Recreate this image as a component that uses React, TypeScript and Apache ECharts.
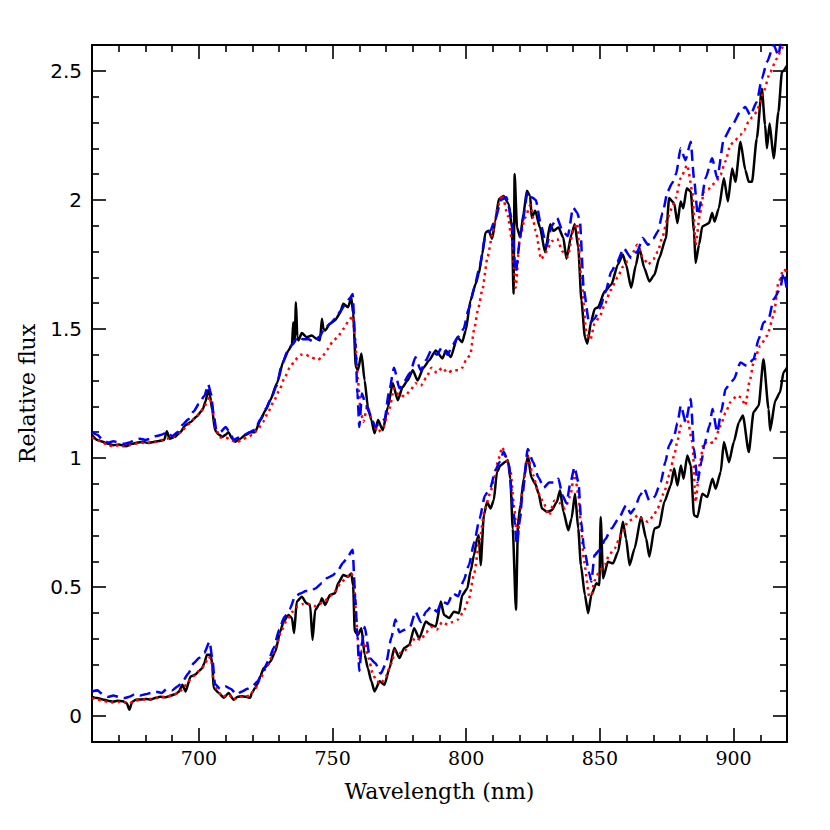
import React, { useEffect, useRef } from "react";
import * as echarts from "echarts";

// ---------- data (wavelength in nm, relative flux) ----------
const blackUpperWl = [660,662,664,666,668,670,672.7,675,677,679,681,683,685,687,688,689,691,693,695,697,699,701.3,702.5,703.4,704.2,705,706,707.5,708.8,710,711,712.5,713.6,715.5,717.3,719.4,721,723,724.9,726.7,729.2,731.7,733.5,734.8,735.3,735.8,736.3,736.8,737.2,738.5,740.3,742.2,744,745.3,746,746.6,747.2,749,750.9,752.7,754,755.8,757,757.7,758.7,759.5,760.8,762,763.2,764.5,765.7,767,768.8,770.7,772.5,774.4,776.2,778,780,781.8,784,786.1,788.6,791.1,792.4,794.2,796.7,798.5,799.8,801.6,803.5,804.7,806,807.2,808.4,809.7,810.9,812.2,814,815.9,817.1,817.7,818.1,819,820.2,821.4,822.7,823.9,824.5,825.8,827.6,829.5,831.4,832.6,834.5,836.3,837.5,839.4,840.6,841.9,843.1,844.4,845.3,846.8,848.1,849.3,851.8,854.3,856.7,858.6,859.8,861.7,863.5,864.8,866.6,868.5,870.4,872.2,874.7,875.9,877.8,879,880.2,881.2,882.5,884,885.2,885.8,887.1,888.3,889.5,890.8,892,892.9,894.5,896.4,897.9,899.5,900.7,902.6,904.4,905.7,906.9,908.7,910.6,911.8,912.5,913.5,915,916.8,918.1,920];
const blackUpperFlux = [1.089,1.07,1.063,1.055,1.05,1.052,1.046,1.055,1.06,1.063,1.058,1.062,1.066,1.07,1.104,1.075,1.082,1.1,1.127,1.14,1.16,1.185,1.22,1.263,1.24,1.185,1.108,1.09,1.082,1.09,1.1,1.075,1.063,1.075,1.089,1.1,1.1,1.147,1.185,1.224,1.29,1.378,1.417,1.44,1.526,1.45,1.603,1.47,1.456,1.484,1.468,1.475,1.462,1.456,1.54,1.5,1.494,1.52,1.533,1.56,1.598,1.584,1.623,1.56,1.352,1.34,1.405,1.3,1.198,1.147,1.096,1.147,1.108,1.198,1.29,1.224,1.275,1.3,1.34,1.3,1.35,1.378,1.417,1.386,1.417,1.391,1.468,1.449,1.494,1.61,1.674,1.714,1.79,1.874,1.88,1.85,1.919,2.003,2.015,1.984,1.893,1.636,2.1,1.893,1.854,1.946,2.035,2.015,1.93,1.958,1.893,1.797,1.906,1.88,1.893,1.854,1.772,1.868,1.906,1.816,1.61,1.468,1.443,1.533,1.578,1.584,1.646,1.672,1.749,1.788,1.749,1.66,1.749,1.813,1.736,1.684,1.71,1.775,1.852,2.007,1.987,1.91,1.994,1.968,2.045,2.032,1.878,1.756,1.826,1.897,1.903,1.91,1.949,1.916,1.968,2.084,1.994,2.122,2.07,2.225,2.116,2.07,2.07,2.238,2.431,2.29,2.2,2.296,2.161,2.341,2.495,2.52];

const blueUpperWl = [660,662,664,666,668,670,672,674,676,678,680,682,684,686,688,690,692,694,696,698,700,702,703.5,704.5,705.5,706.5,708,710,711.5,713,715,717,719,721,723,725,727,729,731,733,735,737,739,741,743,745,747,749,751,753,755,756.5,757.5,758.5,759.3,760,761,762,764,766,768,769.5,771,773,775,777,779,781,783,785,787,789,791,793,795,797,799,801,803,805,807,809,811,813,815,817,818.5,820.5,823,824.5,826,828,830,832,834,836,838,840,841.5,842.5,844,846,848,850,852,854.3,856.5,858.9,861.7,864,866,868.1,870,871.7,873.5,875.3,877,878.5,880.2,882,884,885.2,886.6,888,889.5,892,893.9,896.4,899.5,902.5,904.4,906.3,908.7,910.6,912.5,915,916.8,918,920];
const blueUpperFlux = [1.1,1.09,1.07,1.06,1.065,1.06,1.055,1.06,1.07,1.075,1.07,1.075,1.085,1.09,1.1,1.085,1.1,1.13,1.15,1.18,1.21,1.24,1.285,1.25,1.17,1.11,1.1,1.12,1.1,1.07,1.08,1.09,1.1,1.11,1.15,1.19,1.23,1.28,1.36,1.41,1.44,1.47,1.46,1.46,1.45,1.47,1.5,1.52,1.54,1.57,1.6,1.62,1.635,1.45,1.25,1.12,1.25,1.22,1.17,1.12,1.14,1.15,1.25,1.35,1.27,1.3,1.33,1.39,1.34,1.38,1.42,1.4,1.43,1.4,1.44,1.47,1.5,1.58,1.66,1.74,1.85,1.88,1.93,2.0,2.01,1.93,1.72,1.88,2.03,2.01,2.0,1.9,1.82,1.9,1.93,1.88,1.86,1.97,1.95,1.92,1.65,1.52,1.54,1.58,1.64,1.723,1.76,1.813,1.775,1.8,1.852,1.826,1.85,1.878,1.95,2.032,2.064,2.1,2.2,2.154,2.225,2.084,1.942,2.0,2.084,2.161,2.084,2.238,2.29,2.341,2.36,2.328,2.38,2.47,2.534,2.6,2.56,2.63,2.68];

const redUpperWl = [660,662,664,666,668,670,672,674,676,678,680,682,684,686,688,690,692,694,696,698,700,702,704,705,706,708,710,712,714,716,718,720,722,724,726,728,730,732,734,736,738,740,742,744.5,746,748,750,752,754,756,757.5,758.5,759.5,760.5,761.5,763,765,767,769,771,773,775,777,779,781,783,785,787,789,791,793,795,797,798.5,800,801.5,803,804.5,806,808,810,812,813.5,815.5,817,818.5,820,822,824,826,828,830,832,834,836,838,840,841.5,843,845,846.5,848,850,852,854,856.7,858.5,860.4,862,864,866,868,870,871.7,873.5,875.3,877,878.4,880.2,882.7,884.6,885.8,887.5,888.9,890.5,892,893.5,895.1,897,898.8,900.5,902.5,904,905.6,907,908.7,910,911.2,913.7,916.2,918,920];
const redUpperFlux = [1.08,1.07,1.06,1.05,1.045,1.05,1.045,1.05,1.055,1.06,1.058,1.06,1.063,1.07,1.075,1.08,1.09,1.11,1.13,1.15,1.17,1.2,1.237,1.2,1.12,1.08,1.08,1.07,1.06,1.07,1.08,1.09,1.11,1.14,1.18,1.22,1.26,1.31,1.35,1.38,1.4,1.4,1.39,1.38,1.39,1.42,1.45,1.47,1.5,1.53,1.55,1.45,1.3,1.18,1.14,1.2,1.14,1.1,1.12,1.18,1.27,1.24,1.24,1.26,1.29,1.28,1.31,1.35,1.33,1.35,1.33,1.34,1.34,1.35,1.38,1.4,1.5,1.58,1.65,1.78,1.88,1.98,2.02,1.94,1.85,1.66,1.85,1.93,1.98,1.88,1.77,1.8,1.84,1.85,1.8,1.78,1.88,1.91,1.7,1.48,1.46,1.52,1.55,1.6,1.65,1.7,1.74,1.762,1.79,1.826,1.78,1.749,1.77,1.8,1.86,1.929,1.97,2.007,2.084,2.135,2.032,1.826,1.95,2.032,2.04,2.058,2.07,2.097,2.15,2.213,2.23,2.251,2.27,2.302,2.32,2.341,2.38,2.418,2.495,2.547,2.587,2.64];

const blackLowerWl = [660,662,664,666,667.8,669.5,671.5,673,674,675,676.5,678,680.2,682,683.9,685.5,687.6,689.5,691.3,692.5,693.8,695,696.9,698.7,700,701.2,702,703,704.3,705,705.5,707.4,709.3,711.1,713,714.5,716,717.5,719.2,719.8,721,721.8,723,724.2,725.5,726.7,728.6,730.4,731.7,733.5,734.8,735.6,736.6,738.5,740.3,741.6,742.5,743.5,745.3,746,747.2,749,750.9,752.1,754,755.8,757,757.7,758.3,759.5,760.8,762,763.2,764.5,765.7,767.6,769.4,771.3,773.1,775,776.8,778.7,780.5,782.4,784.9,786.5,788.6,790.5,791.7,793.6,795.4,797.3,798.5,800.4,801.6,802.9,804.1,804.7,805.4,806.6,807.8,809.1,810.3,811.5,812.8,814.4,815.6,816.5,817.4,818.6,819.4,820.3,821.5,823.1,824.3,825.8,827.1,828.3,830.2,832,833.9,835.1,836.4,838.2,839.4,840.7,841.9,842.9,844.4,845.6,846.8,848.7,849.8,850.3,851.2,853,854.9,856.8,858.6,859.8,861.1,863,865.4,867.3,868.5,870.4,872.2,874.1,876.5,877.8,879,880.3,881.3,882.7,884,885.2,886.5,888.3,890.2,892.1,893.3,895.2,896.4,898.3,900.1,902,903.5,905.7,907.5,909.4,911.2,913.1,913.7,915.6,917.4,918.7,920];
const blackLowerFlux = [0.075,0.07,0.065,0.06,0.056,0.06,0.058,0.05,0.025,0.055,0.064,0.065,0.067,0.065,0.071,0.075,0.073,0.08,0.086,0.095,0.122,0.096,0.154,0.161,0.175,0.186,0.205,0.238,0.238,0.205,0.109,0.09,0.071,0.09,0.064,0.075,0.077,0.075,0.071,0.09,0.109,0.122,0.155,0.186,0.195,0.212,0.251,0.328,0.367,0.392,0.38,0.322,0.444,0.463,0.437,0.431,0.296,0.412,0.437,0.457,0.431,0.469,0.476,0.515,0.547,0.54,0.553,0.505,0.328,0.315,0.341,0.238,0.186,0.135,0.096,0.135,0.122,0.186,0.264,0.225,0.264,0.276,0.341,0.302,0.367,0.355,0.347,0.444,0.392,0.38,0.405,0.399,0.469,0.495,0.56,0.624,0.688,0.701,0.585,0.778,0.83,0.805,0.836,0.946,0.971,0.984,0.991,0.92,0.727,0.412,0.753,0.817,0.92,1.01,0.926,0.901,0.862,0.805,0.791,0.798,0.83,0.875,0.791,0.72,0.766,0.862,0.727,0.585,0.469,0.399,0.469,0.515,0.508,0.772,0.534,0.598,0.592,0.637,0.753,0.688,0.585,0.65,0.772,0.688,0.618,0.727,0.734,0.83,0.894,0.959,0.894,0.971,0.92,1.01,0.971,0.778,0.772,0.862,0.849,0.92,0.881,0.946,1.062,0.984,1.062,1.139,1.165,1.023,1.178,1.203,1.383,1.19,1.107,1.222,1.255,1.332,1.35];

const blueLowerWl = [660,662,664,666,668,670,672,674,676,678,680,682,684,686,688,690,692,694,696,698,700,702,704,705,706,708,710,712,714,716,718,720,722,724,726,728,730,732,734,736,738,740,742,743.5,746,748,750,752,754,755.5,757.5,758.5,759.3,760,761,762,764,766,768,770,772,773.5,775,777,779,781,783,785,787,789,791,793,795,797,799,801,803,805,807,809,811,812.5,814,816,817.5,819,820,821,823,825,827,829,831,833,834.5,836,837.5,839,840.5,842,843,844,846,846.8,848,850,852,854.3,857,859.8,861.5,863,865,866.6,868.5,870.4,872.8,874.5,875.9,877.8,879,880.3,882.1,884,885.2,886.5,888,889,891,892.1,893.9,895.5,897,898.5,900.1,902.6,905,907.5,909.4,911.2,913.1,915,917.4,918.7,920];
const blueLowerFlux = [0.095,0.1,0.085,0.075,0.08,0.075,0.07,0.075,0.085,0.08,0.085,0.09,0.095,0.09,0.105,0.1,0.115,0.135,0.165,0.205,0.225,0.245,0.289,0.225,0.125,0.105,0.115,0.105,0.085,0.095,0.105,0.115,0.135,0.175,0.215,0.265,0.335,0.385,0.415,0.465,0.475,0.485,0.485,0.495,0.515,0.535,0.545,0.565,0.595,0.615,0.645,0.455,0.305,0.175,0.285,0.345,0.225,0.205,0.165,0.205,0.305,0.375,0.325,0.335,0.345,0.405,0.365,0.405,0.425,0.405,0.445,0.435,0.475,0.465,0.525,0.585,0.675,0.765,0.855,0.885,0.955,0.985,1.025,0.975,0.805,0.665,0.755,0.855,1.035,0.985,0.925,0.885,0.905,0.905,0.92,0.855,0.825,0.905,0.965,0.905,0.755,0.655,0.555,0.522,0.624,0.645,0.685,0.727,0.765,0.817,0.785,0.805,0.855,0.881,0.835,0.849,0.907,0.985,1.049,1.087,1.135,1.203,1.139,1.229,1.036,0.907,0.985,1.049,1.125,1.19,1.1,1.185,1.267,1.285,1.305,1.37,1.357,1.383,1.461,1.525,1.538,1.615,1.654,1.718,1.65];

const redLowerWl = [660,662,664,666,668,670,672,674,676,678,680,682,684,686,688,690,692,694,696,698,700,702,703.5,704.5,705.5,707,709,711,713,715,717,719,721,723,725,727,729,731,733,735,737,739,741,743,745,747,749,751,753,755,757,758,759,760,761,762,763.5,765,766.5,768,770,772,773.5,775,777,779,781,783,785,787,789,791,793,795,797,799,801,803,805,807,809,810.5,812,813.5,815,816.5,818,819,820,821,823,825,827,829,831,833,835,837,839,840.5,842,843,844,846,846.8,848,850,851.8,853.5,855.5,858,860.5,862.5,864.2,866,867.9,870,871.6,874.1,876,877.8,879,880.3,882.7,884.6,885.8,887.5,888.9,890.5,892.7,895.2,897,898.8,901.3,902.8,904.4,906,907.5,910,912.5,915,916.8,918.7,920];
const redLowerFlux = [0.07,0.065,0.06,0.055,0.053,0.055,0.055,0.05,0.06,0.063,0.065,0.067,0.07,0.073,0.075,0.08,0.09,0.105,0.135,0.155,0.175,0.195,0.23,0.225,0.135,0.095,0.075,0.085,0.065,0.075,0.075,0.08,0.105,0.145,0.185,0.225,0.275,0.335,0.375,0.405,0.425,0.435,0.435,0.425,0.435,0.445,0.465,0.485,0.515,0.535,0.555,0.525,0.355,0.225,0.255,0.285,0.225,0.165,0.135,0.125,0.155,0.205,0.255,0.245,0.255,0.275,0.305,0.295,0.325,0.345,0.335,0.365,0.355,0.365,0.375,0.405,0.455,0.555,0.685,0.805,0.865,0.925,0.995,1.042,0.995,0.955,0.805,0.685,0.755,0.875,1.005,0.935,0.865,0.825,0.778,0.835,0.825,0.805,0.855,0.946,0.855,0.725,0.605,0.465,0.469,0.525,0.565,0.585,0.625,0.65,0.705,0.753,0.765,0.778,0.765,0.753,0.775,0.805,0.869,0.935,1.01,1.065,1.126,1.152,1.062,0.83,0.985,1.062,1.055,1.062,1.126,1.175,1.216,1.242,1.235,1.203,1.295,1.37,1.435,1.473,1.551,1.679,1.731,1.72];

const xMinorTicks = [670,680,690,710,720,730,740,760,770,780,790,810,820,830,840,860,870,880,890,910];
const xMajorTicks = [700,750,800,850,900];
const yMinorTicks = [-0.1,0.1,0.2,0.3,0.4,0.6,0.7,0.8,0.9,1.1,1.2,1.3,1.4,1.6,1.7,1.8,1.9,2.1,2.2,2.3,2.4,2.6];
const yMajorTicks = [0,0.5,1,1.5,2,2.5];

const zip = (w: number[], f: number[]) => w.map((x, i) => [x, f[i]]);

const BLACK = "#000000";
const BLUE = "#0000ff";
const RED = "#ff0000";

export default function App() {
  const ref = useRef<HTMLDivElement>(null);

  useEffect(() => {
    if (!ref.current) return;
    const chart = echarts.init(ref.current, undefined, { renderer: "svg" });

    const axisLineStyle = { color: "#000", width: 2 };
    const tickStyle = { color: "#000", width: 1.6 };

    const mkX = (position: "top" | "bottom", ticks: number[], len: number, labels: boolean, withName: boolean, showLine: boolean) => ({
      type: "value" as const,
      position,
      min: 660,
      max: 920,
      axisLine: { show: showLine, onZero: false, lineStyle: axisLineStyle },
      axisTick: { show: true, inside: true, length: len, customValues: ticks, lineStyle: tickStyle },
      axisLabel: {
        show: labels,
        customValues: ticks,
        margin: 6,
        color: "#000",
        fontFamily: "DejaVu Serif",
        fontSize: 19,
      },
      splitLine: { show: false },
      name: withName ? "Wavelength (nm)" : "",
      nameLocation: "middle" as const,
      nameGap: 38,
      nameTextStyle: { color: "#000", fontFamily: "DejaVu Serif", fontSize: 22 },
    });

    const mkY = (position: "left" | "right", ticks: number[], len: number, labels: boolean, withName: boolean, showLine: boolean) => ({
      type: "value" as const,
      position,
      min: -0.1,
      max: 2.6,
      axisLine: { show: showLine, onZero: false, lineStyle: axisLineStyle },
      axisTick: { show: true, inside: true, length: len, customValues: ticks, lineStyle: tickStyle },
      axisLabel: {
        show: labels,
        customValues: ticks,
        margin: 10,
        color: "#000",
        fontFamily: "DejaVu Sans",
        fontSize: 20,
        formatter: (v: number) => String(Math.round(v * 10) / 10),
      },
      splitLine: { show: false },
      name: withName ? "Relative flux" : "",
      nameLocation: "middle" as const,
      nameRotate: 90,
      nameGap: 54,
      nameTextStyle: { color: "#000", fontFamily: "DejaVu Serif", fontSize: 22 },
    });

    const line = (name: string, data: number[][], color: string, type: any, width: number, z: number) => ({
      name,
      type: "line" as const,
      xAxisIndex: 0,
      yAxisIndex: 0,
      data,
      showSymbol: false,
      symbol: "none",
      smooth: 0.2,
      smoothMonotone: "x" as const,
      clip: true,
      z,
      lineStyle: { color, width, type, cap: "butt" as const, join: "round" as const },
    });

    chart.setOption({
      animation: false,
      backgroundColor: "#ffffff",
      grid: { left: 82, right: 51, top: 37, bottom: 96, containLabel: false },
      xAxis: [
        mkX("bottom", xMajorTicks, 14, true, true, true),
        mkX("bottom", xMinorTicks, 7, false, false, false),
        mkX("top", xMajorTicks, 14, false, false, true),
        mkX("top", xMinorTicks, 7, false, false, false),
      ],
      yAxis: [
        mkY("left", yMajorTicks, 14, true, true, true),
        mkY("left", yMinorTicks, 7, false, false, false),
        mkY("right", yMajorTicks, 14, false, false, true),
        mkY("right", yMinorTicks, 7, false, false, false),
      ],
      series: [
        line("black-upper", zip(blackUpperWl, blackUpperFlux), BLACK, "solid", 2.5, 2),
        line("black-lower", zip(blackLowerWl, blackLowerFlux), BLACK, "solid", 2.5, 2),
        line("red-upper", zip(redUpperWl, redUpperFlux), RED, [2.5, 4], 2.5, 3),
        line("red-lower", zip(redLowerWl, redLowerFlux), RED, [2.5, 4], 2.5, 3),
        line("blue-upper", zip(blueUpperWl, blueUpperFlux), BLUE, [11, 6], 2.5, 4),
        line("blue-lower", zip(blueLowerWl, blueLowerFlux), BLUE, [11, 6], 2.5, 4),
      ],
    });

    return () => chart.dispose();
  }, []);

  return <div ref={ref} style={{ width: 830, height: 830 }} />;
}
